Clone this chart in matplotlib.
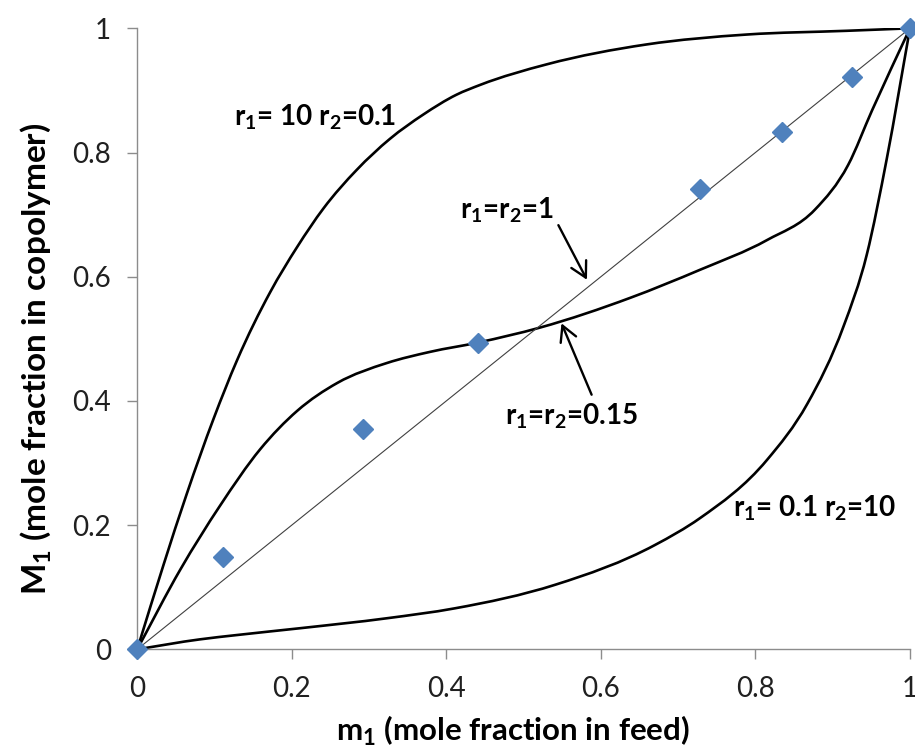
import numpy as np
import matplotlib
matplotlib.use('Agg')
from matplotlib import pyplot as plt
from matplotlib.path import Path
from matplotlib.patches import PathPatch

plt.rcParams['font.family'] = ['Lato', 'DejaVu Sans']

# curve r1=10, r2=0.1
x_hi = [0, 0.034, 0.064, 0.099, 0.129, 0.172, 0.207, 0.241, 0.284, 0.327, 0.370, 0.413, 0.444, 0.53, 0.659, 0.789, 0.918, 1.0]
y_hi = [0, 0.136, 0.250, 0.372, 0.465, 0.575, 0.648, 0.710, 0.772, 0.822, 0.861, 0.893, 0.909, 0.942, 0.974, 0.990, 0.996, 1.0]

# curve r1=r2=0.15
x_mid = [0, 0.056, 0.107, 0.159, 0.207, 0.259, 0.323, 0.379, 0.441, 0.521, 0.638, 0.728, 0.815, 0.877, 0.92, 0.951, 1.0]
y_mid = [0, 0.129, 0.231, 0.322, 0.384, 0.429, 0.461, 0.479, 0.494, 0.518, 0.566, 0.611, 0.659, 0.708, 0.780, 0.868, 1.0]

# curve r1=0.1, r2=10
x_lo = [0, 0.081, 0.129, 0.211, 0.323, 0.411, 0.541, 0.67, 0.728, 0.815, 0.867, 0.914, 0.944, 0.970, 1.0]
y_lo = [0, 0.016, 0.023, 0.034, 0.050, 0.066, 0.104, 0.168, 0.211, 0.305, 0.395, 0.520, 0.635, 0.790, 1.0]

# ideal line r1=r2=1
x_ideal = [0, 1]
y_ideal = [0, 1]

# measured points
x_pts = [0, 0.111, 0.292, 0.441, 0.728, 0.834, 0.925, 1.0]
y_pts = [0, 0.149, 0.354, 0.493, 0.741, 0.833, 0.922, 1.0]

ticks = [0, 0.2, 0.4, 0.6, 0.8, 1.0]
tick_labels = ['0', '0.2', '0.4', '0.6', '0.8', '1']


def smooth_line(ax, xs, ys, **kw):
    # smoothed line (like excel): cubic bezier pieces through the read points
    x = np.asarray(xs, float)
    y = np.asarray(ys, float)
    h = np.diff(x)
    s = np.diff(y) / h
    m = np.empty_like(x)
    m[0] = s[0]
    m[-1] = s[-1]
    m[1:-1] = (h[:-1] * s[1:] + h[1:] * s[:-1]) / (h[:-1] + h[1:])
    verts = [(x[0], y[0])]
    codes = [Path.MOVETO]
    for i in range(len(x) - 1):
        d = h[i] / 3.0
        verts += [(x[i] + d, y[i] + m[i] * d), (x[i + 1] - d, y[i + 1] - m[i + 1] * d), (x[i + 1], y[i + 1])]
        codes += [Path.CURVE4] * 3
    ax.add_patch(PathPatch(Path(verts, codes), fill=False, **kw))


fig = plt.figure(figsize=(9.15, 7.53), dpi=100)
ax = fig.add_axes([0.150, 0.1377, 0.8445, 0.8247])

ax.plot(x_ideal, y_ideal, color='#404040', lw=0.8)
smooth_line(ax, x_hi, y_hi, color='black', lw=1.9)
smooth_line(ax, x_mid, y_mid, color='black', lw=1.9)
smooth_line(ax, x_lo, y_lo, color='black', lw=1.9)
ax.plot(x_pts, y_pts, 'D', color='#4F81BD', ms=10, mec='#4F81BD', ls='none', clip_on=False, zorder=5)

ax.set_xlim(0, 1)
ax.set_ylim(0, 1)
ax.set_xticks(ticks)
ax.set_xticklabels(tick_labels)
ax.set_yticks(ticks)
ax.set_yticklabels(tick_labels)

for s in ['top', 'right']:
    ax.spines[s].set_visible(False)
for s in ['left', 'bottom']:
    ax.spines[s].set_color('#8c8c8c')
    ax.spines[s].set_linewidth(1.0)
ax.tick_params(axis='both', direction='out', length=7, width=1.0, color='#8c8c8c',
               labelsize=20, labelcolor='#202020', pad=12)

ax.set_xlabel(r'm$_{\mathregular{1}}$ (mole fraction in feed)', fontsize=22.5, fontweight='bold', labelpad=9)
ax.set_ylabel(r'M$_{\mathregular{1}}$ (mole fraction in copolymer)', fontsize=24, fontweight='bold', labelpad=13)
ax.xaxis.label.set_x(0.486)
ax.yaxis.label.set_y(0.468)

tsize = 20
ax.text(0.230, 0.857, r'r$_{\mathregular{1}}$= 10 r$_{\mathregular{2}}$=0.1', fontsize=tsize, fontweight='bold', ha='center', va='center')
ax.text(0.478, 0.707, r'r$_{\mathregular{1}}$=r$_{\mathregular{2}}$=1', fontsize=tsize, fontweight='bold', ha='center', va='center')
ax.text(0.562, 0.375, r'r$_{\mathregular{1}}$=r$_{\mathregular{2}}$=0.15', fontsize=tsize, fontweight='bold', ha='center', va='center')
ax.text(0.877, 0.227, r'r$_{\mathregular{1}}$= 0.1 r$_{\mathregular{2}}$=10', fontsize=tsize, fontweight='bold', ha='center', va='center')

arrow = dict(arrowstyle='->,head_length=0.55,head_width=0.3', lw=1.7, color='black',
             mutation_scale=20, shrinkA=0, shrinkB=0)
ax.annotate('', xy=(0.582, 0.595), xytext=(0.545, 0.683), arrowprops=arrow)
ax.annotate('', xy=(0.549, 0.525), xytext=(0.588, 0.410), arrowprops=arrow)

fig.savefig('out.png', dpi=100)
